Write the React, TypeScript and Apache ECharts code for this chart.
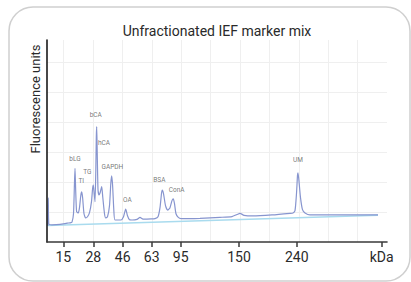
import React, { useEffect, useRef } from "react";
import * as echarts from "echarts";

// Migration position (arbitrary units) of x-axis ticks and their labels
const tickPositions = [16.3, 46.3, 75.7, 104.7, 133.7, 192, 249.7, 334.7];
const tickLabels = ["15", "28", "46", "63", "95", "150", "240", "kDa"];

// Electropherogram trace: migration position, fluorescence
const traceX = [
  0.8, 1.3, 1.8, 5, 13, 20, 24,
  25, 26.5, 27.4, 28, 28.6, 29.6, 31.3,
  32.5, 33.8, 34.7, 35.6, 37, 38.7,
  40.5, 42.5, 44.5, 45.6, 46.3, 47, 48,
  48.8, 49.3, 49.7, 50.2, 51, 52,
  53.2, 54.7, 55.8, 57.5, 58.7,
  60.5, 62.5, 63.8, 64.7, 65.6, 66.8, 68,
  74, 76.5, 78.7, 80.5, 82.5, 85,
  90, 93, 96, 104,
  108, 111, 113, 114.5, 115.3, 116.5, 118.5, 120.7,
  123, 125, 126.3, 127.5, 129, 131.3, 134,
  140, 153, 173, 185, 190, 193, 197, 206, 225, 243, 246,
  248, 249.5, 250.5, 251, 252, 253.5, 255.5, 258, 263,
  290, 331,
];
const traceY = [
  8.0, 21.8, 8.9, 8.5, 8.7, 9.3, 9.6,
  9.8, 14, 28, 36.5, 27, 15, 14.4,
  17, 23, 24.8, 22, 14, 11.9,
  12.5, 14.5, 20, 26.5, 28.2, 25, 19.9,
  35, 52, 57.1, 45, 26, 23.3,
  24.5, 27.4, 22, 14, 11.9,
  12.5, 18, 29, 32.7, 28, 16, 10.9,
  10.9, 12.5, 16.3, 13, 11, 10.9,
  11.2, 12.2, 11.3, 11.4,
  11.6, 12.5, 17, 24, 25.7, 24, 18, 15.8,
  17, 20.5, 21.3, 19, 14, 12.2, 11.6,
  11.6, 11.7, 12.2, 12.6, 13.6, 14.2, 13.2, 12.9, 13.4, 14.2, 14.4,
  15.5, 24, 33, 34.2, 30, 22, 16, 14.4, 13.4,
  13.4, 13.4,
];

// Baseline fit
const baselineX = [0.8, 331];
const baselineY = [8.2, 13.3];

// Peak annotations
const peakNames = ["bLG", "TI", "TG", "bCA", "hCA", "GAPDH", "OA", "BSA", "ConA", "UM"];
const peakLabelX = [28, 34.3, 40.3, 48.7, 57, 65.3, 80.3, 112.3, 129.7, 251];
const peakLabelY = [41.1, 30.2, 34.8, 62.9, 48.9, 37.3, 20.8, 30.7, 25.7, 40.6];

export default function App() {
  const ref = useRef<HTMLDivElement>(null);
  useEffect(() => {
    if (!ref.current) return;
    const chart = echarts.init(ref.current, null, { renderer: "svg" });
    const font = "Roboto, 'Noto Sans', sans-serif";
    const gridLine = { show: true, lineStyle: { color: "#efefef", width: 1 } };
    const option: any = {
      animation: false,
      grid: { left: 47, right: 24, top: 40, bottom: 40 },
      xAxis: [
        {
          type: "value",
          min: 0,
          max: 340,
          z: 5,
          splitLine: { show: false },
          axisLine: { show: true, onZero: false, lineStyle: { color: "#3a3a3a", width: 1.6 } },
          axisTick: {
            show: true,
            customValues: tickPositions,
            length: 5,
            inside: false,
            lineStyle: { color: "#3a3a3a", width: 1.5 },
          },
          axisLabel: {
            show: true,
            customValues: tickPositions,
            formatter: (v: number) => {
              const i = tickPositions.findIndex((t) => Math.abs(t - v) < 0.01);
              return i >= 0 ? tickLabels[i] : "";
            },
            fontFamily: font,
            fontSize: 14,
            color: "#2a2a2a",
            margin: 8,
          },
        },
        {
          // faint background grid (one square ≈ one tick step)
          type: "value",
          position: "top",
          inverse: true,
          min: 0,
          max: 340 / 29.4,
          interval: 1,
          axisLine: { show: false },
          axisTick: { show: false },
          axisLabel: { show: false },
          splitLine: { ...gridLine, showMinLine: false, showMaxLine: false },
        },
      ],
      yAxis: [
        {
          type: "value",
          min: 0,
          max: 100,
          z: 5,
          splitLine: { show: false },
          axisLine: { show: true, onZero: false, lineStyle: { color: "#1a1a1a", width: 1.6 } },
          axisTick: { show: false },
          axisLabel: { show: false },
        },
        {
          type: "value",
          position: "right",
          min: 0,
          max: 202 / 30,
          interval: 1,
          axisLine: { show: false },
          axisTick: { show: false },
          axisLabel: { show: false },
          splitLine: { ...gridLine, showMinLine: false, showMaxLine: false },
        },
      ],
      series: [
        {
          type: "line",
          xAxisIndex: 0,
          yAxisIndex: 0,
          data: baselineX.map((x, i) => [x, baselineY[i]]),
          symbol: "none",
          lineStyle: { color: "#a9dbee", width: 1.5 },
          silent: true,
        },
        {
          type: "line",
          xAxisIndex: 0,
          yAxisIndex: 0,
          data: traceX.map((x, i) => [x, traceY[i]]),
          symbol: "none",
          smooth: 0.2,
          lineStyle: { color: "#8795cf", width: 1.2 },
          silent: true,
        },
        {
          type: "scatter",
          xAxisIndex: 0,
          yAxisIndex: 0,
          symbolSize: 0,
          data: peakNames.map((n, i) => ({ name: n, value: [peakLabelX[i], peakLabelY[i]] })),
          label: {
            show: true,
            position: "inside",
            formatter: (p: any) => p.name,
            fontFamily: font,
            fontSize: 6.5,
            color: "#555",
          },
          silent: true,
        },
      ],
      graphic: [
        {
          type: "rect",
          shape: { x: 9, y: 7, width: 401, height: 274, r: 24 },
          style: { fill: "none", stroke: "#cfcfcf", lineWidth: 1.5 },
          silent: true,
        },
        {
          type: "text",
          x: 217,
          y: 31,
          style: {
            text: "Unfractionated IEF marker mix",
            fontFamily: font,
            fontSize: 14,
            fill: "#2a2a2a",
            textAlign: "center",
            textVerticalAlign: "middle",
          },
        },
        {
          type: "text",
          x: 35,
          y: 99,
          rotation: Math.PI / 2,
          style: {
            text: "Fluorescence units",
            fontFamily: font,
            fontSize: 13,
            fill: "#2a2a2a",
            textAlign: "center",
            textVerticalAlign: "middle",
          },
        },
      ],
    };
    chart.setOption(option);
    return () => chart.dispose();
  }, []);
  return (
    <div
      ref={ref}
      style={{ position: "fixed", left: 0, top: 0, width: 411, height: 282, background: "#fff" }}
    />
  );
}
